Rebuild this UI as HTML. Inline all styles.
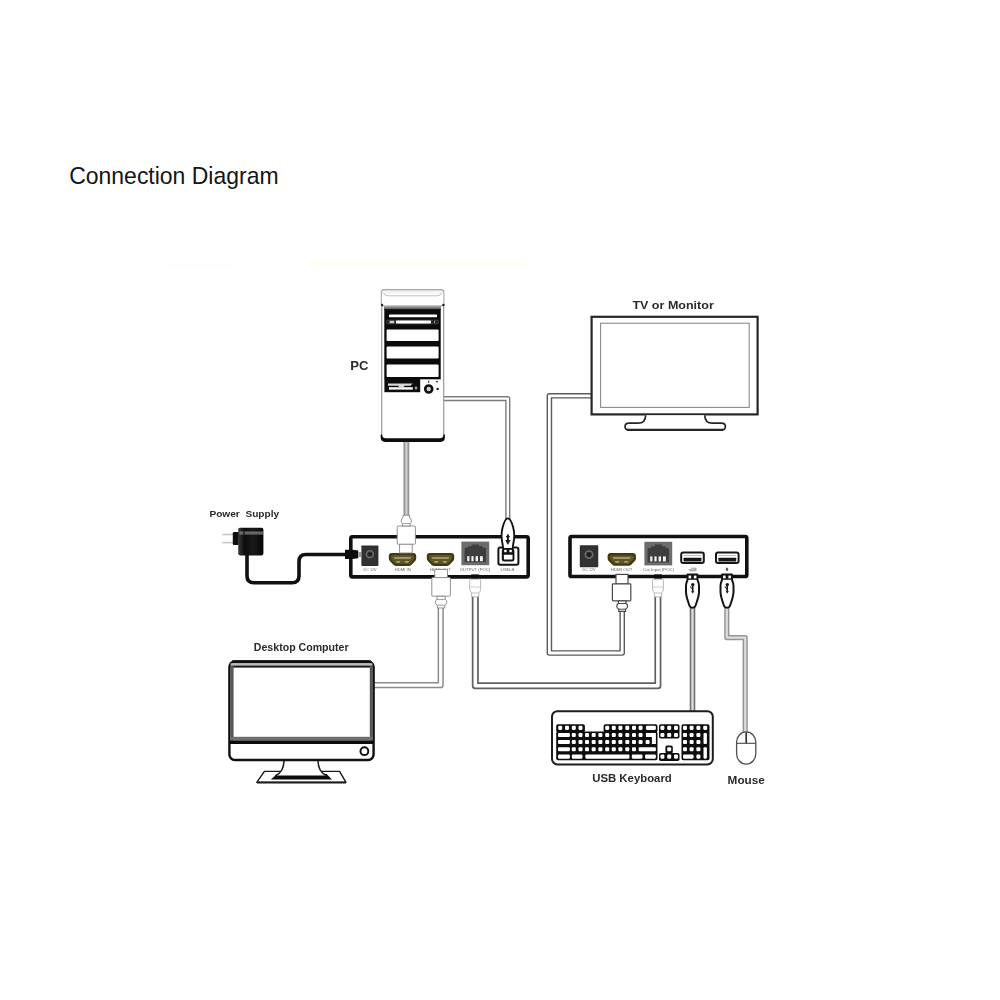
<!DOCTYPE html>
<html lang="en">
<head>
<meta charset="utf-8">
<title>Connection Diagram</title>
<style>
  html, body { margin: 0; padding: 0; background: #fff; }
  body { width: 1000px; height: 1000px; overflow: hidden; position: relative; font-family: "Liberation Sans", sans-serif; }
  svg { position: absolute; left: 0; top: 0; display: block; }
  .lbl { font-family: "Liberation Sans", sans-serif; font-weight: bold; fill: #2a2a2a; }
  .tiny { font-family: "Liberation Sans", sans-serif; font-size: 3.6px; fill: #666; text-anchor: middle; }
  .cab-o { fill: none; stroke-linejoin: round; stroke-linecap: butt; }
  .cab-i { fill: none; stroke: #fff; stroke-linejoin: round; stroke-linecap: butt; }
</style>
</head>
<body>
<svg width="1000" height="1000" viewBox="0 0 1000 1000">
  <rect x="0" y="0" width="1000" height="1000" fill="#ffffff"/>

  <rect x="312" y="260" width="215" height="7" fill="#fffef7"/>
  <rect x="165" y="262" width="70" height="6" fill="#fdfffd"/>
  <!-- ===== Title ===== -->
  <text x="69.2" y="183.5" font-family="Liberation Sans, sans-serif" font-size="24.4" fill="#151515" textLength="209.4" lengthAdjust="spacingAndGlyphs">Connection Diagram</text>

  <defs><filter id="soft" x="-2%" y="-2%" width="104%" height="104%" color-interpolation-filters="sRGB"><feGaussianBlur stdDeviation="0.38"/></filter></defs>
  <g id="diagram" filter="url(#soft)">
  <!-- ===== CABLES (drawn first, beneath devices) ===== -->
  <g id="cables">
    <!-- PC -> HDMI IN -->
    <path class="cab-o" stroke="#959595" stroke-width="5.8" d="M406.4,440 V516"/>
    <path class="cab-i" style="stroke:#cfcfcf" stroke-width="2.2" d="M406.4,440 V516"/>
    <!-- PC -> USB-B -->
    <path class="cab-o" stroke="#7c7c7c" stroke-width="5.2" d="M444,398.6 H507.8 V520"/>
    <path class="cab-i" stroke-width="2.4" d="M444,398.6 H507.8 V520"/>
    <!-- TX HDMI OUT -> Desktop -->
    <path class="cab-o" stroke="#8c8c8c" stroke-width="6.2" d="M440.7,606 V685.2 H374"/>
    <path class="cab-i" stroke-width="3.2" d="M440.7,606 V685.2 H374"/>
    <!-- TX RJ45 -> RX RJ45 -->
    <path class="cab-o" stroke="#606060" stroke-width="7" d="M475.3,596 V685.8 H657.9 V596"/>
    <path class="cab-i" stroke-width="3.6" d="M475.3,596 V685.8 H657.9 V596"/>
    <!-- RX HDMI -> Monitor -->
    <path class="cab-o" stroke="#5a5a5a" stroke-width="5.6" d="M622.2,611 V653 H549.4 V395.8 H592"/>
    <path class="cab-i" stroke-width="2.8" d="M622.2,611 V653 H549.4 V395.8 H592"/>
    <!-- RX USB1 -> Keyboard -->
    <path class="cab-o" stroke="#707070" stroke-width="5.6" d="M692.5,606 V712"/>
    <path class="cab-i" style="stroke:#dcdcdc" stroke-width="2.4" d="M692.5,606 V712"/>
    <!-- RX USB2 -> Mouse -->
    <path class="cab-o" stroke="#969696" stroke-width="5.2" d="M726.8,606 V637.6 H745.2 V733"/>
    <path class="cab-i" style="stroke:#dedede" stroke-width="2.2" d="M726.8,606 V637.6 H745.2 V733"/>
    <!-- Power cable -->
    <path fill="none" stroke="#111" stroke-width="3.6" stroke-linejoin="round" d="M247,554 V576 Q247,582.8 254,582.8 H292 Q299,582.8 299,576 V561.5 Q299,554.5 306,554.5 H348"/>
  </g>

  <!-- ===== PC TOWER ===== -->
  <defs>
    <linearGradient id="gcap" x1="0" y1="0" x2="0" y2="1">
      <stop offset="0" stop-color="#e9e9e9"/><stop offset="0.35" stop-color="#ffffff"/><stop offset="1" stop-color="#ffffff"/>
    </linearGradient>
    <linearGradient id="gband" x1="0" y1="0" x2="0" y2="1">
      <stop offset="0" stop-color="#bdbdbd"/><stop offset="1" stop-color="#3a3a3a"/>
    </linearGradient>
    <linearGradient id="gadp" x1="0" y1="0" x2="1" y2="0">
      <stop offset="0" stop-color="#3a3a3a"/><stop offset="0.25" stop-color="#0c0c0c"/><stop offset="0.6" stop-color="#1a1a1a"/><stop offset="1" stop-color="#050505"/>
    </linearGradient>
  </defs>
  <g id="pc">
    <!-- body -->
    <path d="M381.5,304 V436 Q381.5,440.4 386,440.4 H439.5 Q444,440.4 444,436 V304 Z" fill="#fff" stroke="none"/>
    <line x1="381.7" y1="304" x2="381.7" y2="436" stroke="#9a9a9a" stroke-width="1.2"/>
    <line x1="443.7" y1="304" x2="443.7" y2="436" stroke="#9a9a9a" stroke-width="1.2"/>
    <!-- bottom thick edge -->
    <path d="M380.7,434.6 V437.6 Q380.7,441.9 385.2,441.9 H440.4 Q444.9,441.9 444.9,437.6 V434.6 L443.5,434.6 Q443.5,438.3 439.8,438.3 H385.8 Q382.1,438.3 382.1,434.6 Z" fill="#0c0c0c"/>
    <!-- top cap -->
    <rect x="381.3" y="289.6" width="62.6" height="16.4" rx="3" ry="3" fill="url(#gcap)" stroke="#a8a8a8" stroke-width="1.1"/>
    <path d="M383.5,293 Q384.5,295.8 388,295.8 H437 Q440.5,295.8 441.6,293" fill="none" stroke="#c2c2c2" stroke-width="1"/>
    <circle cx="382" cy="305" r="1.2" fill="#222"/>
    <circle cx="443.4" cy="305" r="1.2" fill="#222"/>
    <rect x="384" y="305.6" width="57" height="4.4" fill="url(#gband)"/>
    <!-- drive bays -->
    <rect x="384.3" y="309.3" width="56.4" height="70" fill="#0a0a0a"/>
    <rect x="389" y="314.4" width="48" height="2.8" rx="0.8" fill="#fff"/>
    <rect x="386.8" y="320.2" width="51.4" height="3.6" rx="0.6" fill="#1c1c1c" stroke="#777" stroke-width="0.5"/>
    <rect x="396" y="320.4" width="35" height="3.2" rx="0.8" fill="#fff"/>
    <rect x="389.6" y="320.8" width="4.6" height="2.4" fill="#cfcfcf"/>
    <circle cx="434.6" cy="322" r="0.7" fill="#cfcfcf"/>
    <rect x="386.6" y="329.6" width="52" height="11.4" rx="0.8" fill="#fff"/>
    <rect x="386.6" y="346.6" width="52" height="12" rx="0.8" fill="#fff"/>
    <rect x="386.6" y="364.6" width="52" height="12.4" rx="0.8" fill="#fff"/>
    <!-- floppy -->
    <rect x="384.4" y="379" width="35.8" height="13.2" fill="#0c0c0c"/>
    <path d="M388,383.6 H412.6 L410.4,385.8 H404.8 L403.4,387.2 H399.4 L398,385.8 H388 Z" fill="#d8d8d8"/>
    <rect x="389" y="387.2" width="23.8" height="2.4" fill="#fff"/>
    <rect x="414.8" y="386.6" width="2.4" height="2.8" fill="#9a9a9a"/>
    <!-- power button + leds -->
    <circle cx="428.7" cy="389" r="3.5" fill="#d0d0d0" stroke="#111" stroke-width="2.6"/>
    <rect x="428" y="380.6" width="1.2" height="2.4" fill="#555"/>
    <circle cx="437" cy="381.6" r="0.9" fill="#222"/>
    <circle cx="437.6" cy="389" r="1.25" fill="#222"/>
    <text class="lbl" x="350.2" y="370.3" font-size="12.2" textLength="18.2" lengthAdjust="spacingAndGlyphs" fill="#444">PC</text>
  </g>

  <!-- ===== TV / MONITOR ===== -->
  <g id="tv">
    <rect x="591.6" y="316.8" width="166" height="97.6" fill="#fff" stroke="#262626" stroke-width="2.2"/>
    <rect x="600.6" y="323.2" width="148.6" height="84.2" fill="none" stroke="#8a8a8a" stroke-width="1.1"/>
    <!-- stand -->
    <path d="M645.6,415.2 C645.6,420 643.5,423.2 638,423.2 H629 Q625,423.2 625,426.6 Q625,430 629,430 H721.4 Q725.4,430 725.4,426.6 Q725.4,423.2 721.4,423.2 H712.4 C707,423.2 704.8,420 704.8,415.2" fill="#fff" stroke="#262626" stroke-width="1.7" stroke-linejoin="round"/>
    <line x1="627" y1="429.8" x2="723.4" y2="429.8" stroke="#262626" stroke-width="2.2"/>
    <text class="lbl" x="632.4" y="309.2" font-size="11.4" textLength="81.4" lengthAdjust="spacingAndGlyphs" fill="#333">TV or Monitor</text>
  </g>

  <!-- ===== reusable shapes ===== -->
  <defs>
    <!-- HDMI receptacle: 27.4 x 13 at origin -->
    <g id="hdmi">
      <path d="M3.2,0 H24.2 Q27.4,0 27.4,3.2 V5.4 Q27.4,7 26.4,8 L22.8,11.9 Q21.8,13 20.2,13 H7.2 Q5.6,13 4.6,11.9 L1,8 Q0,7 0,5.4 V3.2 Q0,0 3.2,0 Z" fill="#3f3916"/>
      <path d="M4,2.2 H23.4 Q25.2,2.2 25.2,3.8 V5.2 Q25.2,6 24.6,6.6 L21.6,10 Q20.8,10.8 19.8,10.8 H7.6 Q6.6,10.8 5.8,10 L2.8,6.6 Q2.2,6 2.2,5.2 V3.8 Q2.2,2.2 4,2.2 Z" fill="#5f5628"/>
      <path d="M5.2,4 H22.2 Q22.6,5.4 21.4,6.2 H6 Q4.8,5.4 5.2,4 Z" fill="#9e9468"/>
      <rect x="7.4" y="8" width="4" height="1.9" rx="0.7" fill="#a89e74"/>
      <rect x="16" y="8" width="4" height="1.9" rx="0.7" fill="#a89e74"/>
    </g>
    <!-- DC jack: 17 x 20.6 -->
    <g id="dcjack">
      <rect x="0" y="0" width="17" height="20.6" rx="0.8" fill="#2e2e2e"/>
      <rect x="1.4" y="1.4" width="14.2" height="17.8" rx="0.6" fill="#323232"/>
      <circle cx="8.5" cy="8.8" r="3.4" fill="#2a2a2a" stroke="#6e6e6e" stroke-width="1.5"/>
      <circle cx="8.5" cy="8.8" r="1.1" fill="#161616"/>
    </g>
    <!-- RJ45 jack: 27.8 x 23.6 -->
    <g id="rj45">
      <rect x="0" y="0" width="27.8" height="23.6" fill="#6c6c6c"/>
      <path d="M3.2,20.6 V7.6 Q3.2,6 4.8,6 H7 V4.4 H10.4 V2.8 H17.6 V4.4 H21 V6 H23 Q24.6,6 24.6,7.6 V20.6 Z" fill="#3e3e3e"/>
      <rect x="5.8" y="14.6" width="2.2" height="5" fill="#f4f4f4"/>
      <rect x="10" y="14.6" width="2.2" height="5" fill="#f4f4f4"/>
      <rect x="14.2" y="14.6" width="2.4" height="5" fill="#f4f4f4"/>
      <rect x="18.6" y="14.6" width="2.8" height="5" fill="#f4f4f4"/>
    </g>
    <!-- HDMI cable plug pointing up into port (tip at top). origin = top-left of tip -->
    <g id="hdmiplugup">
      <rect x="0" y="0" width="12.6" height="8" fill="#fff" stroke="#8a8484" stroke-width="0.9"/>
      <rect x="-3" y="8" width="18.6" height="18.6" rx="0.8" fill="#fff" stroke="#8a8484" stroke-width="0.9"/>
      <path d="M2.2,26.6 V29.6 Q0.6,30.4 0.6,32.6 Q0.6,34.8 2.6,35.6 V38.4 H10 V35.6 Q12,34.8 12,32.6 Q12,30.4 10.4,29.6 V26.6 Z" fill="#fff" stroke="#8a8484" stroke-width="0.9"/>
      <line x1="2.2" y1="29.8" x2="10.4" y2="29.8" stroke="#8a8484" stroke-width="0.8"/>
      <line x1="2.6" y1="35.6" x2="10" y2="35.6" stroke="#8a8484" stroke-width="0.8"/>
    </g>
    <!-- RJ45 cable plug hanging below box. origin = top-left of black tab -->
    <g id="rjplug">
      <rect x="0" y="0" width="8" height="4.4" fill="#0a0a0a"/>
      <path d="M-0.6,4.8 Q-1.4,4.8 -1.4,6 V15 Q-1.4,16.4 -0.4,17.6 L0.4,18.6 V22.4 H7.6 V18.6 L8.4,17.6 Q9.4,16.4 9.4,15 V6 Q9.4,4.8 8.6,4.8 Z" fill="#fff" stroke="#b0b0b0" stroke-width="0.9"/>
      <line x1="-1" y1="12.6" x2="9" y2="12.6" stroke="#c4c4c4" stroke-width="0.8"/>
      <line x1="0.4" y1="18.6" x2="7.6" y2="18.6" stroke="#b0b0b0" stroke-width="0.8"/>
    </g>
  </defs>

  <!-- ===== TRANSMITTER ===== -->
  <g id="tx">
    <rect x="350.8" y="536.7" width="177.4" height="40.2" rx="1.6" fill="#fff" stroke="#101010" stroke-width="3.6"/>
    <use href="#dcjack" x="361.4" y="545.4"/>
    <use href="#hdmi" x="388.8" y="552.9"/>
    <use href="#hdmi" x="426.8" y="552.9"/>
    <use href="#rj45" x="461.4" y="541.6"/>
    <!-- USB-B receptacle -->
    <rect x="498.4" y="547.4" width="20" height="17.4" rx="1.8" fill="#fff" stroke="#151515" stroke-width="2"/>
    <!-- tiny port labels -->
    <text class="tiny" x="370" y="570.8" textLength="13" lengthAdjust="spacingAndGlyphs">DC 12V</text>
    <text class="tiny" x="402.8" y="570.8" textLength="16" lengthAdjust="spacingAndGlyphs">HDMI IN</text>
    <text class="tiny" x="440.4" y="570.8" textLength="21" lengthAdjust="spacingAndGlyphs">HDMI OUT</text>
    <text class="tiny" x="475" y="570.8" textLength="30.6" lengthAdjust="spacingAndGlyphs">OUTPUT (POC)</text>
    <text class="tiny" x="507.6" y="570.8" textLength="14" lengthAdjust="spacingAndGlyphs">USB-B</text>

    <!-- HDMI IN plug coming from top (flipped) -->
    <g transform="translate(399.6,553) scale(1,-1)">
      <rect x="0" y="0" width="12.6" height="9" fill="#fff" stroke="#8a8484" stroke-width="0.9"/>
      <rect x="-2.4" y="8.8" width="18.2" height="18.2" rx="0.8" fill="#fff" stroke="#8a8484" stroke-width="0.9"/>
      <path d="M2.8,27 V29.4 Q1.6,30.2 1.6,32.2 Q1.6,34.2 3.4,35 V37.8 H10 V35 Q11.8,34.2 11.8,32.2 Q11.8,30.2 10.6,29.4 V27 Z" fill="#fff" stroke="#8a8484" stroke-width="0.9"/>
      <line x1="2.8" y1="29.4" x2="10.6" y2="29.4" stroke="#8a8484" stroke-width="0.8"/>
    </g>
    <!-- HDMI OUT plug going down -->
    <use href="#hdmiplugup" x="434.8" y="569.6"/>
    <!-- RJ45 plug going down -->
    <use href="#rjplug" x="471.2" y="574.4"/>

    <!-- USB-B plug from top -->
    <g id="usbbplug">
      <path d="M507.8,518.4 C505.8,518.4 503.8,523 502.6,527.4 C501.3,532.4 501.3,536.8 502,540.8 C502.6,544 503,546.4 503.2,549 H512.6 C512.8,546.4 513.2,544 513.8,540.8 C514.5,536.8 514.5,532.4 513.2,527.4 C512,523 510,518.4 507.8,518.4 Z" fill="#fff" stroke="#121212" stroke-width="1.9" stroke-linejoin="round"/>
      <path d="M507.9,534.4 V541.6" fill="none" stroke="#1a1a1a" stroke-width="2"/>
      <path d="M505.2,540 H510.6 L507.9,545 Z" fill="#1a1a1a"/>
      <path d="M506,536.6 H509.8" fill="none" stroke="#1a1a1a" stroke-width="1.2"/>
      <rect x="501.8" y="548.6" width="12.6" height="13" rx="2.4" fill="#121212"/>
      <rect x="503.9" y="554.8" width="8.6" height="4.8" rx="0.5" fill="#fff"/>
      <rect x="504.2" y="549.8" width="2.4" height="2.4" fill="#fff"/>
      <rect x="509.4" y="549.8" width="2.4" height="2.4" fill="#fff"/>
    </g>

    <!-- DC power plug -->
    <path d="M345.6,549.8 H352.4 L358.2,550.6 V558.2 L352.4,559 H345.6 Q345,559 345,558.4 V550.4 Q345,549.8 345.6,549.8 Z" fill="#0b0b0b"/>
    <rect x="358.2" y="552" width="2.8" height="5" fill="#9a9a9a"/>
  </g>

  <!-- ===== RECEIVER ===== -->
  <defs>
    <!-- USB-A receptacle 24.6 x 12.4 -->
    <g id="usba">
      <rect x="1" y="1" width="22.6" height="10.4" rx="2" fill="#fff" stroke="#161616" stroke-width="2"/>
      <rect x="3.4" y="6.2" width="17.8" height="3.6" rx="0.4" fill="#161616"/>
      <rect x="3.4" y="3.4" width="17.8" height="1" fill="#bdbdbd"/>
    </g>
    <!-- USB-A cable plug hanging down; origin = top-centre -->
    <g id="usbaplug">
      <path d="M-4.9,0 H4.9 V5 C5.2,6.4 6.5,8 6.5,11.6 V17.4 C6.5,22.4 4.2,27.8 2.9,31.6 Q2.3,33.4 0,33.4 Q-2.3,33.4 -2.9,31.6 C-4.2,27.8 -6.5,22.4 -6.5,17.4 V11.6 C-6.5,8 -5.2,6.4 -4.9,5 Z" fill="#fff" stroke="#141414" stroke-width="2" stroke-linejoin="round"/>
      <rect x="-5.2" y="-0.4" width="10.4" height="5.8" fill="#141414"/>
      <rect x="-3.9" y="1.2" width="2.5" height="2.8" fill="#fff"/>
      <rect x="1.4" y="1.2" width="2.5" height="2.8" fill="#fff"/>
      <path d="M0.2,10 V17.4" stroke="#1a1a1a" stroke-width="1.7" fill="none"/>
      <circle cx="0.3" cy="10.2" r="1.7" fill="#1a1a1a"/>
      <path d="M0.2,14.6 L-1.9,13 V12" stroke="#1a1a1a" stroke-width="1" fill="none"/>
      <path d="M-1.5,16.8 H1.9 L0.2,19 Z" fill="#1a1a1a"/>
    </g>
  </defs>
  <g id="rx">
    <rect x="570" y="536.5" width="176.8" height="40" rx="1.6" fill="#fff" stroke="#101010" stroke-width="3.6"/>
    <use href="#dcjack" transform="translate(579.8,545.2) scale(1.085,1.065)"/>
    <use href="#hdmi" transform="translate(607.6,553) scale(1.035,0.985)"/>
    <use href="#rj45" x="644.4" y="541.8"/>
    <use href="#usba" x="680.2" y="551.6"/>
    <use href="#usba" x="715" y="551.6"/>
    <text class="tiny" x="589" y="571" textLength="13" lengthAdjust="spacingAndGlyphs">DC 12V</text>
    <text class="tiny" x="621.6" y="571" textLength="21.6" lengthAdjust="spacingAndGlyphs">HDMI OUT</text>
    <text class="tiny" x="658.6" y="571" textLength="31" lengthAdjust="spacingAndGlyphs">Cat Input (POC)</text>
    <!-- usb keyboard / mouse glyphs -->
    <path d="M688.6,569.8 H696 V568.2 H691 M689.6,570.8 H696.6" stroke="#777" stroke-width="0.7" fill="none"/>
    <path d="M726.2,567.6 Q728,567.4 728.2,569.4 Q728.2,571 727,571 Q725.8,571 725.8,569.6 Z" fill="#555"/>
    <!-- plugs -->
    <g id="rxhdmiplug">
      <rect x="616" y="574.4" width="12" height="9.6" fill="#fff" stroke="#484848" stroke-width="1.2"/>
      <rect x="612.4" y="583.8" width="18.4" height="17" rx="0.8" fill="#fff" stroke="#484848" stroke-width="1.2"/>
      <path d="M618.4,600.8 V603.4 Q616.8,604.2 616.8,606.2 Q616.8,608.4 618.8,609.2 V611.4 H625.6 V609.2 Q627.6,608.4 627.6,606.2 Q627.6,604.2 626,603.4 V600.8 Z" fill="#fff" stroke="#484848" stroke-width="1.2"/>
      <line x1="618.4" y1="603.5" x2="626" y2="603.5" stroke="#484848" stroke-width="1"/>
      <line x1="618.8" y1="609.2" x2="625.6" y2="609.2" stroke="#484848" stroke-width="1"/>
    </g>
    <use href="#rjplug" x="654" y="574.4"/>
    <use href="#usbaplug" x="692.5" y="574.4"/>
    <use href="#usbaplug" x="727" y="574.4"/>
  </g>

  <!-- ===== POWER SUPPLY ===== -->
  <g id="psu">
    <rect x="222.4" y="533.7" width="11" height="1.6" fill="#c8c8c8"/>
    <rect x="222.4" y="541.8" width="11" height="1.6" fill="#c8c8c8"/>
    <rect x="232.8" y="532" width="6" height="13" rx="1.2" fill="#0e0e0e"/>
    <rect x="238.2" y="527.8" width="25.2" height="27.6" rx="1.8" fill="url(#gadp)"/>
    <rect x="239.4" y="531.4" width="24" height="3.2" fill="#9c9c9c" opacity="0.6"/>
    <rect x="243" y="531.4" width="1.6" height="3.2" fill="#222"/>
    <text class="lbl" x="209.4" y="517.2" font-size="9.9" textLength="69.8" lengthAdjust="spacingAndGlyphs" fill="#4a4a4a" xml:space="preserve">Power  Supply</text>
  </g>

  <!-- ===== DESKTOP COMPUTER ===== -->
  <g id="desktop">
    <!-- stand -->
    <path d="M264.4,771.4 H339.6 L346,782.4 H256.8 Z" fill="#fff" stroke="#1a1a1a" stroke-width="1.4" stroke-linejoin="round"/>
    <line x1="257" y1="782.5" x2="346" y2="782.5" stroke="#1a1a1a" stroke-width="2.2"/>
    <path d="M277,774 H326.6 L332,779.6 H270.8 Z" fill="#0c0c0c"/>
    <path d="M284,760 C284,768 281,773.4 276.4,775.4 H325.6 C321,773.4 318,768 318,760 Z" fill="#fff"/>
    <path d="M284,760 C284,768 281,773.4 275.4,775.6 M318,760 C318,768 321,773.4 326.6,775.6" fill="none" stroke="#1a1a1a" stroke-width="1.5"/>
    <!-- body -->
    <rect x="229.4" y="661.4" width="144.2" height="98.6" rx="5.4" fill="#fff" stroke="#101010" stroke-width="2.4"/>
    <rect x="232" y="660.4" width="139" height="3" fill="#101010"/>
    <rect x="230.6" y="663.3" width="141.8" height="2.6" fill="#bcbcbc"/>
    <rect x="230.4" y="665.6" width="142.2" height="2" fill="#1a1a1a"/>
    <rect x="230.4" y="666" width="3.2" height="76" fill="#585858"/>
    <rect x="369.8" y="666" width="3" height="76" fill="#585858"/>
    <rect x="230.4" y="736.8" width="142.2" height="4" fill="#707070"/>
    <rect x="229.4" y="740.6" width="144.2" height="3.4" fill="#0c0c0c"/>
    <circle cx="364.4" cy="751.2" r="3.9" fill="#fff" stroke="#131313" stroke-width="2"/>
    <text class="lbl" x="253.8" y="651.3" font-size="10.7" textLength="94.8" lengthAdjust="spacingAndGlyphs" fill="#2e2e2e">Desktop Computer</text>
  </g>

  <!-- ===== MOUSE ===== -->
  <g id="mouse">
    <rect x="736.6" y="731.9" width="19.2" height="32.2" rx="9.4" ry="10.4" fill="#fff" stroke="#505050" stroke-width="1.3"/>
    <path d="M736.4,743.3 H756" stroke="#4a4a4a" stroke-width="1.1" fill="none"/>
    <path d="M746.2,732.4 V743.3" stroke="#333" stroke-width="1.7" fill="none"/>
    <text class="lbl" x="727.6" y="784" font-size="11.2" textLength="37.2" lengthAdjust="spacingAndGlyphs" fill="#2a2a2a">Mouse</text>
  </g>

  <!-- ===== KEYBOARD ===== -->
  <g id="keyboard">
    <rect x="552" y="711.2" width="160.8" height="53.2" rx="5.4" fill="#fff" stroke="#1c1c1c" stroke-width="2"/>
    <g id="kb-black">
      <rect x="556.2" y="724.2" width="28.7" height="8.0" rx="1.8" fill="#0d0d0d"/>
      <rect x="603.6" y="724.2" width="53.9" height="8.0" rx="1.8" fill="#0d0d0d"/>
      <rect x="556.2" y="731.4" width="101.3" height="28.8" rx="1.8" fill="#0d0d0d"/>
      <rect x="659.0" y="724.2" width="20.5" height="14.4" rx="1.8" fill="#0d0d0d"/>
      <rect x="665.4" y="745.6" width="7.4" height="8.0" rx="1.8" fill="#0d0d0d"/>
      <rect x="659.0" y="753.0" width="20.5" height="8.0" rx="1.8" fill="#0d0d0d"/>
      <rect x="681.5" y="724.2" width="28.0" height="36.0" rx="1.8" fill="#0d0d0d"/>
    </g>
    <g id="kb-keys">
      <rect x="558.2" y="725.8" width="4.0" height="4.1" rx="1.1" fill="#fff"/>
      <rect x="565.0" y="725.8" width="4.0" height="4.1" rx="1.1" fill="#fff"/>
      <rect x="571.8" y="725.8" width="4.0" height="4.1" rx="1.1" fill="#fff"/>
      <rect x="578.5" y="725.8" width="4.0" height="4.1" rx="1.1" fill="#fff"/>
      <rect x="605.2" y="725.8" width="4.0" height="4.1" rx="1.1" fill="#fff"/>
      <rect x="611.8" y="725.8" width="4.0" height="4.1" rx="1.1" fill="#fff"/>
      <rect x="618.4" y="725.8" width="4.0" height="4.1" rx="1.1" fill="#fff"/>
      <rect x="625.3" y="725.8" width="4.0" height="4.1" rx="1.1" fill="#fff"/>
      <rect x="632.0" y="725.8" width="4.0" height="4.1" rx="1.1" fill="#fff"/>
      <rect x="638.6" y="725.8" width="4.0" height="4.1" rx="1.1" fill="#fff"/>
      <rect x="645.9" y="725.8" width="10.0" height="4.1" rx="1.1" fill="#fff"/>
      <rect x="558.0" y="733.0" width="11.9" height="4.1" rx="1.1" fill="#fff"/>
      <rect x="571.8" y="733.0" width="4.0" height="4.1" rx="1.1" fill="#fff"/>
      <rect x="578.5" y="733.0" width="4.0" height="4.1" rx="1.1" fill="#fff"/>
      <rect x="585.0" y="733.0" width="4.0" height="4.1" rx="1.1" fill="#fff"/>
      <rect x="591.7" y="733.0" width="4.0" height="4.1" rx="1.1" fill="#fff"/>
      <rect x="598.4" y="733.0" width="4.0" height="4.1" rx="1.1" fill="#fff"/>
      <rect x="605.2" y="733.0" width="4.0" height="4.1" rx="1.1" fill="#fff"/>
      <rect x="611.8" y="733.0" width="4.0" height="4.1" rx="1.1" fill="#fff"/>
      <rect x="618.4" y="733.0" width="4.0" height="4.1" rx="1.1" fill="#fff"/>
      <rect x="625.3" y="733.0" width="4.0" height="4.1" rx="1.1" fill="#fff"/>
      <rect x="632.0" y="733.0" width="4.0" height="4.1" rx="1.1" fill="#fff"/>
      <rect x="638.6" y="733.0" width="4.0" height="4.1" rx="1.1" fill="#fff"/>
      <path d="M645.9,733.0 H655.9 V744.0 H651.9 V737.0 H645.9 Z" fill="#fff"/>
      <rect x="558.0" y="740.0" width="11.9" height="4.1" rx="1.1" fill="#fff"/>
      <rect x="571.8" y="740.0" width="4.0" height="4.1" rx="1.1" fill="#fff"/>
      <rect x="578.5" y="740.0" width="4.0" height="4.1" rx="1.1" fill="#fff"/>
      <rect x="585.0" y="740.0" width="4.0" height="4.1" rx="1.1" fill="#fff"/>
      <rect x="591.7" y="740.0" width="4.0" height="4.1" rx="1.1" fill="#fff"/>
      <rect x="598.4" y="740.0" width="4.0" height="4.1" rx="1.1" fill="#fff"/>
      <rect x="605.2" y="740.0" width="4.0" height="4.1" rx="1.1" fill="#fff"/>
      <rect x="611.8" y="740.0" width="4.0" height="4.1" rx="1.1" fill="#fff"/>
      <rect x="618.4" y="740.0" width="4.0" height="4.1" rx="1.1" fill="#fff"/>
      <rect x="625.3" y="740.0" width="4.0" height="4.1" rx="1.1" fill="#fff"/>
      <rect x="632.0" y="740.0" width="4.0" height="4.1" rx="1.1" fill="#fff"/>
      <rect x="638.6" y="740.0" width="4.0" height="4.1" rx="1.1" fill="#fff"/>
      <rect x="645.6" y="740.0" width="4.0" height="4.1" rx="1.1" fill="#fff"/>
      <rect x="558.0" y="747.2" width="11.9" height="4.1" rx="1.1" fill="#fff"/>
      <rect x="571.8" y="747.2" width="4.0" height="4.1" rx="1.1" fill="#fff"/>
      <rect x="578.5" y="747.2" width="4.0" height="4.1" rx="1.1" fill="#fff"/>
      <rect x="585.0" y="747.2" width="4.0" height="4.1" rx="1.1" fill="#fff"/>
      <rect x="591.7" y="747.2" width="4.0" height="4.1" rx="1.1" fill="#fff"/>
      <rect x="598.4" y="747.2" width="4.0" height="4.1" rx="1.1" fill="#fff"/>
      <rect x="605.2" y="747.2" width="4.0" height="4.1" rx="1.1" fill="#fff"/>
      <rect x="611.8" y="747.2" width="4.0" height="4.1" rx="1.1" fill="#fff"/>
      <rect x="618.4" y="747.2" width="4.0" height="4.1" rx="1.1" fill="#fff"/>
      <rect x="625.3" y="747.2" width="4.0" height="4.1" rx="1.1" fill="#fff"/>
      <rect x="632.0" y="747.2" width="4.0" height="4.1" rx="1.1" fill="#fff"/>
      <rect x="638.7" y="747.2" width="17.2" height="4.1" rx="1.1" fill="#fff"/>
      <rect x="558.0" y="754.6" width="11.9" height="4.1" rx="1.1" fill="#fff"/>
      <rect x="571.8" y="754.6" width="10.7" height="4.1" rx="1.1" fill="#fff"/>
      <rect x="585.3" y="754.6" width="44.2" height="4.1" rx="1.1" fill="#fff"/>
      <rect x="631.8" y="754.6" width="10.7" height="4.1" rx="1.1" fill="#fff"/>
      <rect x="645.0" y="754.6" width="10.9" height="4.1" rx="1.1" fill="#fff"/>
      <rect x="660.4" y="725.8" width="4.0" height="4.1" rx="1.1" fill="#fff"/>
      <rect x="667.2" y="725.8" width="4.0" height="4.1" rx="1.1" fill="#fff"/>
      <rect x="674.0" y="725.8" width="4.0" height="4.1" rx="1.1" fill="#fff"/>
      <rect x="660.4" y="733.0" width="4.0" height="4.1" rx="1.1" fill="#fff"/>
      <rect x="667.2" y="733.0" width="4.0" height="4.1" rx="1.1" fill="#fff"/>
      <rect x="674.0" y="733.0" width="4.0" height="4.1" rx="1.1" fill="#fff"/>
      <rect x="667.2" y="747.2" width="4.0" height="4.1" rx="1.1" fill="#fff"/>
      <rect x="660.4" y="754.6" width="4.0" height="4.1" rx="1.1" fill="#fff"/>
      <rect x="667.2" y="754.6" width="4.0" height="4.1" rx="1.1" fill="#fff"/>
      <rect x="674.0" y="754.6" width="4.0" height="4.1" rx="1.1" fill="#fff"/>
      <rect x="683.0" y="725.8" width="4.0" height="4.1" rx="1.1" fill="#fff"/>
      <rect x="689.6" y="725.8" width="4.0" height="4.1" rx="1.1" fill="#fff"/>
      <rect x="696.4" y="725.8" width="4.0" height="4.1" rx="1.1" fill="#fff"/>
      <rect x="703.2" y="725.8" width="4.0" height="4.1" rx="1.1" fill="#fff"/>
      <rect x="683.0" y="733.0" width="4.0" height="4.1" rx="1.1" fill="#fff"/>
      <rect x="689.6" y="733.0" width="4.0" height="4.1" rx="1.1" fill="#fff"/>
      <rect x="696.4" y="733.0" width="4.0" height="4.1" rx="1.1" fill="#fff"/>
      <rect x="683.0" y="740.0" width="4.0" height="4.1" rx="1.1" fill="#fff"/>
      <rect x="689.6" y="740.0" width="4.0" height="4.1" rx="1.1" fill="#fff"/>
      <rect x="696.4" y="740.0" width="4.0" height="4.1" rx="1.1" fill="#fff"/>
      <rect x="683.0" y="747.2" width="4.0" height="4.1" rx="1.1" fill="#fff"/>
      <rect x="689.6" y="747.2" width="4.0" height="4.1" rx="1.1" fill="#fff"/>
      <rect x="696.4" y="747.2" width="4.0" height="4.1" rx="1.1" fill="#fff"/>
      <rect x="703.5" y="733.0" width="3.4" height="11.1" rx="1.1" fill="#fff"/>
      <rect x="703.5" y="747.2" width="3.4" height="11.5" rx="1.1" fill="#fff"/>
      <rect x="683.0" y="754.6" width="10.6" height="4.1" rx="1.1" fill="#fff"/>
      <rect x="696.4" y="754.6" width="4.0" height="4.1" rx="1.1" fill="#fff"/>
    </g>
    <text class="lbl" x="592.2" y="781.6" font-size="11.4" textLength="79.6" lengthAdjust="spacingAndGlyphs" fill="#2a2a2a">USB Keyboard</text>
  </g>

  </g>
</svg>
</body>
</html>
